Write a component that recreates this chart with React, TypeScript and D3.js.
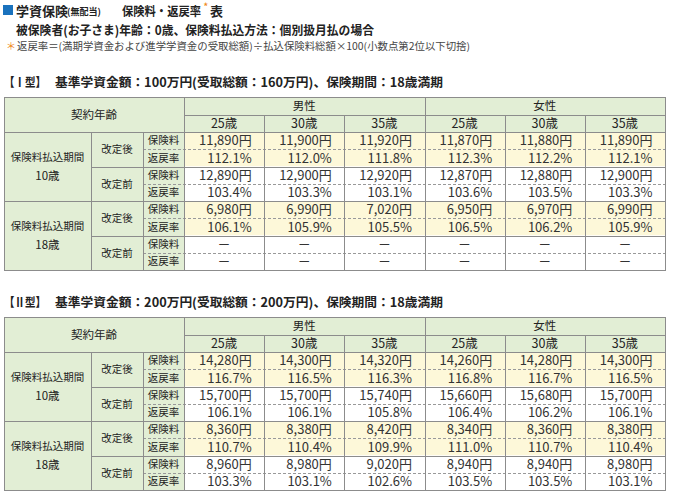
import * as d3 from "d3";

// header labels
const sexes = ["男性", "女性"];
const ages = ["25歳", "30歳", "35歳", "25歳", "30歳", "35歳"];
const periods = ["10歳", "18歳"];
const revisions = ["改定後", "改定前"];
const items = ["保険料", "返戻率"];

// Ⅰ型 (rows: 10歳改定後, 10歳改定前, 18歳改定後, 18歳改定前)
const typeIPremiums: (number | null)[][] = [
  [11890, 11900, 11920, 11870, 11880, 11890],
  [12890, 12900, 12920, 12870, 12880, 12900],
  [6980, 6990, 7020, 6950, 6970, 6990],
  [null, null, null, null, null, null],
];
const typeIRates: (number | null)[][] = [
  [112.1, 112.0, 111.8, 112.3, 112.2, 112.1],
  [103.4, 103.3, 103.1, 103.6, 103.5, 103.3],
  [106.1, 105.9, 105.5, 106.5, 106.2, 105.9],
  [null, null, null, null, null, null],
];

// Ⅱ型
const typeIIPremiums: (number | null)[][] = [
  [14280, 14300, 14320, 14260, 14280, 14300],
  [15700, 15700, 15740, 15660, 15680, 15700],
  [8360, 8380, 8420, 8340, 8360, 8380],
  [8960, 8980, 9020, 8940, 8940, 8980],
];
const typeIIRates: (number | null)[][] = [
  [116.7, 116.5, 116.3, 116.8, 116.7, 116.5],
  [106.1, 106.1, 105.8, 106.4, 106.2, 106.1],
  [110.7, 110.4, 109.9, 111.0, 110.7, 110.4],
  [103.3, 103.1, 102.6, 103.5, 103.5, 103.1],
];

const FONT = "'Noto Sans CJK JP', 'Noto Sans', sans-serif";
const GREEN = "#e2eed5";
const YELLOW = "#fdf8d9";
const LINE = "#8c8c8c";
const ORANGE = "#f08a1c";
const fmtYen = d3.format(",");

const X0 = 4, X1 = 91, X2 = 143, X3 = 184, XR = 665;
const H1 = 18, H2 = 17, ROWS_H = 138;

function Table({ y0, label, title, premiums, rates }: any) {
  const xb = d3.scaleBand<number>().domain(d3.range(ages.length)).range([X3, XR]);
  const yb = d3.scaleBand<number>().domain(d3.range(8)).range([y0 + H1 + H2, y0 + H1 + H2 + ROWS_H]);
  const bottom = y0 + H1 + H2 + ROWS_H;
  const p = (v: number) => Math.round(v) + 0.5;
  const rowVal = (r: number, c: number) => {
    const g = Math.floor(r / 2);
    const v = r % 2 === 0 ? premiums[g][c] : rates[g][c];
    if (v == null) return "－";
    return r % 2 === 0 ? fmtYen(v) + "円" : v.toFixed(1) + "%";
  };
  const rows = d3.range(8);
  return (
    <g fontFamily={FONT}>
      <text x={X0} y={y0 - 15} dy="0.36em" fontSize={12.5} fontWeight="bold" fill="#222"
        textLength={42} lengthAdjust="spacingAndGlyphs">{label}</text>
      <text x={55} y={y0 - 15} dy="0.36em" fontSize={12.5} fontWeight="bold" fill="#222"
        textLength={388} lengthAdjust="spacingAndGlyphs">{title}</text>
      {/* backgrounds */}
      <rect x={X0} y={y0} width={XR - X0} height={H1 + H2} fill={GREEN} />
      <rect x={X0} y={y0 + H1 + H2} width={X3 - X0} height={ROWS_H} fill={GREEN} />
      {rows.map((r) => (
        <rect key={r} x={X3} y={yb(r)} width={XR - X3} height={yb.bandwidth()}
          fill={Math.floor(r / 2) % 2 === 0 ? YELLOW : "#fff"} />
      ))}
      {/* lines */}
      <g stroke={LINE} strokeWidth={1} fill="none">
        <line x1={X3} x2={XR} y1={p(y0 + H1)} y2={p(y0 + H1)} />
        <line x1={X0} x2={XR} y1={p(y0 + H1 + H2)} y2={p(y0 + H1 + H2)} />
        {rows.filter((r) => r > 0).map((r) => {
          const y = p(yb(r)!);
          if (r % 2 === 1) return <line key={r} x1={X2} x2={XR} y1={y} y2={y} strokeDasharray="3,2" stroke="#999" />;
          return <line key={r} x1={r === 4 ? X0 : X1} x2={XR} y1={y} y2={y} />;
        })}
        <line x1={p(X1)} x2={p(X1)} y1={y0 + H1 + H2} y2={bottom} />
        <line x1={p(X2)} x2={p(X2)} y1={y0 + H1 + H2} y2={bottom} />
        <line x1={p(X3)} x2={p(X3)} y1={y0} y2={bottom} />
        {d3.range(1, ages.length).map((c) => (
          <line key={c} x1={p(xb(c)!)} x2={p(xb(c)!)} y1={c === 3 ? y0 : y0 + H1} y2={bottom} />
        ))}
        <rect x={X0 + 0.5} y={y0 + 0.5} width={XR - X0} height={bottom - y0} />
      </g>
      {/* header text */}
      <g fontSize={11.5} fill="#222" textAnchor="middle">
        <text x={(X0 + X3) / 2} y={y0 + (H1 + H2) / 2} dy="0.36em">契約年齢</text>
        {sexes.map((s, i) => (
          <text key={s} x={(xb(i * 3)! + xb(i * 3 + 2)! + xb.bandwidth()) / 2} y={y0 + H1 / 2} dy="0.36em">{s}</text>
        ))}
        {ages.map((a, i) => (
          <text key={i} x={xb(i)! + xb.bandwidth() / 2} y={y0 + H1 + H2 / 2} dy="0.36em" fontSize={12.5}>{a}</text>
        ))}
      </g>
      <g fontSize={10.5} fill="#222" textAnchor="middle">
        {periods.map((pd, i) => {
          const cy = yb(i * 4)! + yb.bandwidth() * 2;
          return (
            <g key={pd}>
              <text x={(X0 + X1) / 2} y={cy - 9} dy="0.36em">保険料払込期間</text>
              <text x={(X0 + X1) / 2} y={cy + 9} dy="0.36em" fontSize={11.5}>{pd}</text>
            </g>
          );
        })}
        {d3.range(4).map((g) => (
          <text key={g} x={(X1 + X2) / 2} y={yb(g * 2)! + yb.bandwidth()} dy="0.36em">{revisions[g % 2]}</text>
        ))}
        {rows.map((r) => (
          <text key={r} x={(X2 + X3) / 2} y={yb(r)! + yb.bandwidth() / 2} dy="0.36em">{items[r % 2]}</text>
        ))}
      </g>
      {/* values */}
      <g fontSize={13} fill="#333">
        {rows.map((r) =>
          d3.range(ages.length).map((c) => {
            const s = rowVal(r, c);
            const dash = s === "－";
            return (
              <text key={r + "-" + c}
                x={dash ? xb(c)! + xb.bandwidth() / 2 : xb(c)! + xb.bandwidth() - 12.5}
                y={yb(r)! + yb.bandwidth() / 2} dy="0.36em" textAnchor={dash ? "middle" : "end"}>{s}</text>
            );
          })
        )}
      </g>
    </g>
  );
}

export default function App() {
  return (
    <svg width={677} height={497} style={{ position: "absolute", left: 0, top: 0, background: "#fff" }}>
      <g fontFamily={FONT} fill="#222">
        <rect x={3} y={5} width={10} height={10} fill="#1a72bd" />
        <text x={16} y={11} dy="0.36em" fontSize={13} fontWeight="bold">学資保険</text>
        <text x={67} y={12} dy="0.36em" fontSize={9} fontWeight="bold">(無配当)</text>
        <text x={122} y={11} dy="0.36em" fontSize={12.5} fontWeight="bold"
          textLength={79} lengthAdjust="spacingAndGlyphs">保険料・返戻率</text>
        <text x={203.5} y={7} dy="0.36em" fontSize={9} fontWeight="bold" fill={ORANGE}>*</text>
        <text x={210} y={11} dy="0.36em" fontSize={13} fontWeight="bold">表</text>
        <text x={16} y={30.5} dy="0.36em" fontSize={12.5} fontWeight="bold"
          textLength={358} lengthAdjust="spacingAndGlyphs">被保険者(お子さま)年齢：0歳、保険料払込方法：個別扱月払の場合</text>
        <text x={6} y={46.5} dy="0.36em" fontSize={10} fill={ORANGE}>＊</text>
        <text x={17} y={46.5} dy="0.36em" fontSize={10} fill="#444"
          textLength={453} lengthAdjust="spacingAndGlyphs">返戻率＝(満期学資金および進学学資金の受取総額)÷払込保険料総額×100(小数点第2位以下切捨)</text>
      </g>
      <Table y0={97} label="【Ⅰ型】" title="基準学資金額：100万円(受取総額：160万円)、保険期間：18歳満期"
        premiums={typeIPremiums} rates={typeIRates} />
      <Table y0={317} label="【Ⅱ型】" title="基準学資金額：200万円(受取総額：200万円)、保険期間：18歳満期"
        premiums={typeIIPremiums} rates={typeIIRates} />
    </svg>
  );
}
